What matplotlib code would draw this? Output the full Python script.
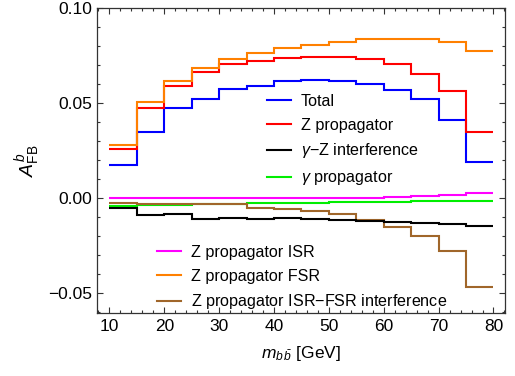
import numpy as np
import matplotlib
matplotlib.use("Agg")
import matplotlib.pyplot as plt
from matplotlib.lines import Line2D
from matplotlib.ticker import MultipleLocator

plt.rcParams["font.family"] = ["Liberation Sans", "DejaVu Sans"]
plt.rcParams["mathtext.fontset"] = "custom"
plt.rcParams["mathtext.rm"] = "Liberation Sans"
plt.rcParams["mathtext.it"] = "Liberation Sans:italic"

# bin edges in m_bb [GeV]
edges = np.arange(10, 85, 5)

total = [0.0177, 0.0351, 0.0474, 0.0523, 0.0575, 0.0593, 0.0617,
         0.0621, 0.0617, 0.0603, 0.0570, 0.0521, 0.0411, 0.0193]
z_prop = [0.0259, 0.0477, 0.0591, 0.0663, 0.0705, 0.0723, 0.0740,
          0.0745, 0.0742, 0.0733, 0.0705, 0.0654, 0.0566, 0.0347]
gz_int = [-0.0053, -0.0088, -0.0082, -0.0111, -0.0104, -0.0107, -0.0102,
          -0.0107, -0.0114, -0.0119, -0.0126, -0.0128, -0.0137, -0.0144]
g_prop = [-0.0040, -0.0037, -0.0033, -0.0030, -0.0028, -0.0026, -0.0024,
          -0.0022, -0.0020, -0.0019, -0.0018, -0.0016, -0.0015, -0.0014]
z_isr = [0.0000, 0.0000, 0.0001, 0.0001, 0.0001, 0.0001, 0.0002,
         0.0002, 0.0003, 0.0003, 0.0005, 0.0011, 0.0018, 0.0030]
z_fsr = [0.0281, 0.0508, 0.0617, 0.0684, 0.0731, 0.0766, 0.0789,
         0.0807, 0.0823, 0.0837, 0.0840, 0.0840, 0.0824, 0.0777]
z_int = [-0.0023, -0.0030, -0.0030, -0.0028, -0.0032, -0.0053, -0.0058,
         -0.0067, -0.0084, -0.0114, -0.0149, -0.0198, -0.0277, -0.0465]

series = [
    ("Total", total, "#0000ff"),
    ("Z propagator", z_prop, "#ff0000"),
    (r"$\gamma$$-$Z interference", gz_int, "#000000"),
    (r"$\gamma$ propagator", g_prop, "#00ee00"),
    ("Z propagator ISR", z_isr, "#ff00ff"),
    ("Z propagator FSR", z_fsr, "#ff8000"),
    ("Z propagator ISR$-$FSR interference", z_int, "#a0662a"),
]

fig = plt.figure(figsize=(5.15, 3.76), dpi=100)
ax = fig.add_axes([0.189, 0.1667, 0.7916, 0.8113])

# draw small ones first so the big curves sit on top
order = [4, 3, 6, 2, 0, 1, 5]
for i in order:
    name, vals, col = series[i]
    ax.stairs(vals, edges, color=col, linewidth=1.5, baseline=None)

ax.set_xlim(7.8, 82.1)
ax.set_ylim(-0.0605, 0.10)
ax.xaxis.set_major_locator(MultipleLocator(10))
ax.xaxis.set_minor_locator(MultipleLocator(2))
ax.yaxis.set_major_locator(MultipleLocator(0.05))
ax.yaxis.set_minor_locator(MultipleLocator(0.01))
ax.yaxis.set_major_formatter(matplotlib.ticker.FuncFormatter(
    lambda v, p: f"{v:.2f}".replace("-", "\u2212")))
ax.tick_params(which="both", direction="in", top=True, right=True,
               labelsize=12.5, color="#333333", width=0.8)
ax.tick_params(which="major", length=4, pad=4)
ax.tick_params(which="minor", length=2.5)
for s in ax.spines.values():
    s.set_color("#333333")
    s.set_linewidth(0.9)

ax.set_xlabel(r"$m_{b\,\bar{b}}$ [GeV]", fontsize=12.5, labelpad=7)
ax.set_ylabel(r"$A^{b}_{\mathrm{FB}}$", fontsize=14, labelpad=4)

legkw = dict(loc="upper left", frameon=False, fontsize=11.6, handlelength=1.5,
             handletextpad=0.6, labelspacing=0.55, borderaxespad=0,
             borderpad=0)
h1 = [Line2D([], [], color=series[i][2], lw=1.5) for i in range(4)]
leg1 = ax.legend(h1, [series[i][0] for i in range(4)],
                 bbox_to_anchor=(0.416, 0.72), **legkw)
ax.add_artist(leg1)
h2 = [Line2D([], [], color=series[i][2], lw=1.5) for i in range(4, 7)]
ax.legend(h2, [series[i][0] for i in range(4, 7)],
          bbox_to_anchor=(0.146, 0.225), **legkw)

fig.savefig("out.png", dpi=100)
